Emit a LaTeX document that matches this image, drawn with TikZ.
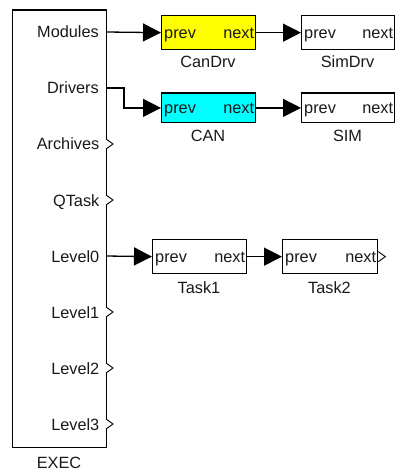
\documentclass[tikz,border=0pt]{standalone}
\usepackage{fontspec}
\setmainfont{Liberation Sans}
\usetikzlibrary{arrows.meta}
\definecolor{ylw}{RGB}{255,255,0}
\definecolor{cyn}{RGB}{0,255,255}
\begin{document}
\begin{tikzpicture}[x=1pt,y=-1pt,
  blk/.style={draw=black,line width=1.3pt,inner sep=0pt,anchor=north west},
  txt/.style={font=\fontsize{16.3}{17}\selectfont,inner sep=0pt,text=black!90},
  plbl/.style={txt,anchor=base east},
  arr/.style={line width=1.3pt,-{Triangle[length=18pt,width=18pt]}},
  oport/.style={draw=black,line width=0.9pt,fill=white}
]
\useasboundingbox (0,0) rectangle (396,470);
% EXEC block
\node[blk,minimum width=94pt,minimum height=437pt] (exec) at (12,9.5) {};
\node[txt,anchor=base] (execl) at (59,468) {EXEC};
% port labels
\node[plbl] (lmod) at (99,38) {Modules};
\node[plbl] (ldrv) at (99,94) {Drivers};
\node[plbl] (larc) at (99.5,150) {Archives};
\node[plbl] (lqt) at (99.5,206) {QTask};
\node[plbl] (ll0) at (99.5,262) {Level0};
\node[plbl] (ll1) at (99.5,318) {Level1};
\node[plbl] (ll2) at (99.5,374) {Level2};
\node[plbl] (ll3) at (99.5,430) {Level3};
% port coordinates
\coordinate (pmod) at (106,32);
\coordinate (pdrv) at (106,88);
\coordinate (pl0) at (106,256);
\foreach \y/\n in {144/parc,200/pqt,312/pl1,368/pl2,424/pl3}{
  \coordinate (\n) at (106,\y);
  \draw[oport] (\n) ++(0,-5) -- ++(7,5) -- ++(-7,5);
}
% blocks
\node[blk,fill=ylw,minimum width=94pt,minimum height=34pt] (candrv) at (161,15) {};
\node[blk,fill=white,minimum width=93pt,minimum height=34pt] (simdrv) at (301,15) {};
\node[blk,fill=cyn,minimum width=94pt,minimum height=29.5pt] (can) at (161,92.5) {};
\node[blk,fill=white,minimum width=93pt,minimum height=29.5pt] (sim) at (301,92.5) {};
\node[blk,fill=white,minimum width=94pt,minimum height=34pt] (task1) at (152,239) {};
\node[blk,fill=white,minimum width=95pt,minimum height=34pt] (task2) at (282,239) {};
% inner labels
\foreach \b in {candrv,simdrv,can,sim,task1,task2}{
  \node[txt,anchor=base west] (\b-p) at ([xshift=3pt,yshift=-6pt]\b.west) {prev};
  \node[txt,anchor=base east] (\b-n) at ([xshift=-2pt,yshift=-6pt]\b.east) {next};
}
% block names
\node[txt,anchor=base] (candrvl) at (208,68) {CanDrv};
\node[txt,anchor=base] (simdrvl) at (347.5,68) {SimDrv};
\node[txt,anchor=base] (canl) at (208,141.5) {CAN};
\node[txt,anchor=base] (siml) at (347.5,141.5) {SIM};
\node[txt,anchor=base] (task1l) at (199,293) {Task1};
\node[txt,anchor=base] (task2l) at (329.5,293) {Task2};
% task2 open port
\coordinate (t2out) at (task2.east);
\draw[oport] (t2out) ++(0,-5) -- ++(7,5) -- ++(-7,5);
% connectors
\draw[arr] (pmod) -- (candrv.west);
\draw[arr] (pdrv) -- (124,88) |- (can.west);
\draw[arr] (candrv.east) -- (simdrv.west);
\draw[arr] (can.east) -- (sim.west);
\draw[arr] (pl0) -- (task1.west);
\draw[arr] (task1.east) -- (task2.west);
\end{tikzpicture}
\end{document}
